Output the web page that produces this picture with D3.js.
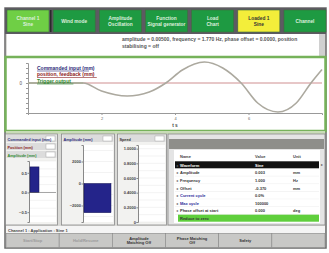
<!DOCTYPE html>
<html>
<head>
<meta charset="utf-8">
<title>Sine channel panel</title>
<script src="https://cdn.jsdelivr.net/npm/d3@7"></script>
<style>
  body { margin: 0; background: #fff; font-family: "Liberation Sans", Arial, sans-serif; }
  svg text { font-family: "Liberation Sans", Arial, sans-serif; }
</style>
</head>
<body>
<svg width="329" height="253"></svg>
<script>
// ---- data ----
const tabLabels = [["Channel 1", "Sine"], ["Wind mode"], ["Amplitude", "Oscillation"], ["Function", "Signal generator"], ["Load", "Chart"], ["Loaded 1", "Sine"], ["Channel"]];
const tabColors = ["#6fcf45", "#1e9a42", "#1e9a42", "#1e9a42", "#1e9a42", "#f3ee3a", "#1e9a42"];
const infoLines = ["amplitude = 0.00500, frequency = 1.770 Hz, phase offset = 0.0000, position", "stabilising = off"];

const legendLabels = ["Commanded input (mm)", "position, feedback (mm)", "Trigger output"];
const legendColors = ["#2b2b7a", "#8a2020", "#2f8a2f"];

const timeS = [0, 1.0, 1.5, 2.0, 2.7, 3.3, 3.75, 4.2, 4.8, 5.3, 5.8, 6.25, 6.8, 7.3, 7.7, 8.0];
const positionMm = [0, 0, 0, -0.8, -1.3, -0.9, 0, 1.3, 2.1, 1.5, 0, -2.0, -2.9, -2.0, 0, 1.35];
const xTicks = [2, 4, 6];

const barPanels = [
  { head: ["Commanded input (mm)", "Position (mm)", "Amplitude (mm)"], headColors: ["#2b2b7a", "#8a2020", "#2f8a2f"], value: 0.65, domain: [-0.75, 0.8], ticks: [0.5, 0, -0.5], fmt: d3.format(".1f") },
  { head: ["Amplitude (mm)"], headColors: ["#2b2b7a"], value: -2650, domain: [-3500, 3500], ticks: [2000, 0, -2000], fmt: d3.format("d") },
  { head: ["Speed"], headColors: ["#333"], value: 0, domain: [0, 1.05], ticks: [1, 0.8, 0.6, 0.4, 0.2, 0], fmt: d => d === 0 ? "0" : d3.format(".4f")(d) }
];

const tableNames = ["Waveform", "Amplitude", "Frequency", "Offset", "Current cycle", "Max cycle", "Phase offset at start", "Reduce to zero"];
const tableValues = ["Sine", "0.003", "1.000", "-0.370", "0.0%", "100000", "0.000", ""];
const tableUnits = ["", "mm", "Hz", "mm", "", "", "deg", ""];

const statusText = "Channel 1 : Application : Sine 1";
const buttonLabels = [["Start/Stop"], ["Hold/Resume"], ["Amplitude", "Matching Off"], ["Phase Matching", "Off"], ["Safety"], [""]];

// ---- drawing ----
const svg = d3.select("svg");

// outer frame
svg.append("rect").attr("x", 5).attr("y", 8).attr("width", 321).attr("height", 240).attr("fill", "#d9d9d6").attr("stroke", "#6a6a6a").attr("stroke-width", 1.5);

// tab strip
svg.append("rect").attr("x", 5).attr("y", 8).attr("width", 321).attr("height", 26).attr("fill", "#5d5a62");
const tabX = d3.scaleBand().domain(d3.range(tabLabels.length)).range([7, 326]).paddingInner(0.09);
const tabs = svg.append("g").selectAll("g").data(tabLabels).join("g")
  .attr("transform", (d, i) => `translate(${tabX(i)},10)`);
tabs.append("rect").attr("width", tabX.bandwidth()).attr("height", 22)
  .attr("fill", (d, i) => tabColors[i]).attr("stroke", "#3e6e3e").attr("stroke-width", 0.6);
tabs.each(function (d, i) {
  const g = d3.select(this);
  d.forEach((t, k) => g.append("text")
    .attr("x", tabX.bandwidth() / 2).attr("y", 11 + (k - (d.length - 1) / 2) * 5.5 + 1.8)
    .attr("text-anchor", "middle").attr("font-size", 4.8).attr("font-weight", "bold")
    .attr("fill", i === 5 ? "#333" : "#dff0df").text(t));
});
svg.append("rect").attr("x", tabX(0) + tabX.bandwidth() + 1).attr("y", 10).attr("width", 1.5).attr("height", 22).attr("fill", "#2a2a2a");

// info text box
svg.append("rect").attr("x", 7).attr("y", 34).attr("width", 312).attr("height", 22).attr("fill", "#fff");
svg.append("rect").attr("x", 319).attr("y", 34).attr("width", 6).attr("height", 22).attr("fill", "#d0d0d0");
infoLines.forEach((t, i) => svg.append("text").attr("x", 122).attr("y", 41 + i * 6.5)
  .attr("font-size", 5).attr("font-weight", "bold").attr("fill", "#555").text(t));

// chart panel
svg.append("rect").attr("x", 5.5).attr("y", 57).attr("width", 320).attr("height", 74).attr("fill", "#fff").attr("stroke", "#76b25a").attr("stroke-width", 2.5);
const x = d3.scaleLinear().domain([0, 8]).range([28, 322]);
const y = d3.scaleLinear().domain([-3, 2]).range([113, 63]);

const chart = svg.append("g");
chart.append("g").attr("transform", "translate(0,113)")
  .call(d3.axisBottom(x).tickValues(xTicks).tickSize(2).tickFormat(d3.format("d")))
  .call(g => g.select(".domain").attr("stroke", "#999"))
  .call(g => g.selectAll("line").attr("stroke", "#999"))
  .call(g => g.selectAll("text").attr("font-size", 4).attr("fill", "#666").attr("dy", "0.5em"));
chart.append("g").attr("transform", "translate(28,0)")
  .call(d3.axisLeft(y).ticks(10).tickSize(2).tickFormat(""))
  .call(g => g.select(".domain").attr("stroke", "#999"))
  .call(g => g.selectAll("line").attr("stroke", "#999"));
chart.append("text").attr("x", 22).attr("y", y(0) + 2).attr("text-anchor", "end").attr("font-size", 4.5).attr("fill", "#555").text("0");
chart.append("text").attr("x", x(4)).attr("y", 127).attr("text-anchor", "middle").attr("font-size", 4.8).attr("font-weight", "bold").attr("fill", "#444").text("t s");

chart.append("line").attr("x1", x(0)).attr("x2", x(8)).attr("y1", y(0)).attr("y2", y(0)).attr("stroke", "#cf8f90").attr("stroke-width", 1);
chart.append("line").attr("x1", x(0)).attr("x2", x(1.5)).attr("y1", y(0)).attr("y2", y(0)).attr("stroke", "#7fb36f").attr("stroke-width", 1);
chart.append("path").datum(d3.zip(timeS, positionMm))
  .attr("fill", "none").attr("stroke", "#aca99f").attr("stroke-width", 1.6)
  .attr("d", d3.line().x(d => x(d[0])).y(d => y(d[1])).curve(d3.curveMonotoneX));

legendLabels.forEach((t, i) => {
  chart.append("text").attr("x", 37).attr("y", 69.5 + i * 6.5).attr("font-size", 5).attr("font-weight", "bold")
    .attr("fill", legendColors[i]).text(t);
  chart.append("line").attr("x1", 37).attr("x2", 37 + t.length * 2.6).attr("y1", 71 + i * 6.5).attr("y2", 71 + i * 6.5)
    .attr("stroke", legendColors[i]).attr("stroke-width", 0.6);
});

// small strip under chart
svg.append("rect").attr("x", 6).attr("y", 131).attr("width", 319).attr("height", 3).attr("fill", "#c9dcb8");

// bar panels
const panelX = [[5, 58, 29], [61, 115, 83], [117, 167, 138]];
barPanels.forEach((p, i) => {
  const [x0, x1, ax] = panelX[i];
  const g = svg.append("g");
  g.append("rect").attr("x", x0 + 0.5).attr("y", 134).attr("width", x1 - x0 - 1).attr("height", 91).attr("fill", "#f2f2f0").attr("stroke", "#8a8a8a").attr("stroke-width", 0.8);
  p.head.forEach((h, k) => {
    g.append("rect").attr("x", x0 + 1.5).attr("y", 135 + k * 8).attr("width", x1 - x0 - 3).attr("height", 7).attr("fill", "#dcdcdc");
    g.append("rect").attr("x", x1 - 12).attr("y", 136 + k * 8).attr("width", 9).attr("height", 5).attr("fill", "#fff").attr("stroke", "#999").attr("stroke-width", 0.4);
    g.append("text").attr("x", x0 + 2.5).attr("y", 140.5 + k * 8).attr("font-size", 3.8).attr("font-weight", "bold").attr("fill", p.headColors[k]).text(h);
  });
  const top = 135 + p.head.length * 8 + 2;
  const ys = d3.scaleLinear().domain(p.domain).range([222, top]);
  g.append("rect").attr("x", ax).attr("y", top).attr("width", x1 - ax - 2).attr("height", 222 - top).attr("fill", "#fff");
  g.append("g").selectAll("line").data(ys.ticks(8)).join("line")
    .attr("x1", ax).attr("x2", x1 - 2).attr("y1", d => ys(d)).attr("y2", d => ys(d)).attr("stroke", "#e6e6e6").attr("stroke-width", 0.5);
  g.append("g").attr("transform", `translate(${ax},0)`)
    .call(d3.axisLeft(ys).tickValues(p.ticks).tickSize(1.5).tickFormat(p.fmt))
    .call(a => a.select(".domain").attr("stroke", "#888"))
    .call(a => a.selectAll("line").attr("stroke", "#888"))
    .call(a => a.selectAll("text").attr("font-size", 4).attr("font-weight", "bold").attr("fill", "#444").attr("x", -2));
  if (p.value !== 0) {
    g.append("rect").attr("x", ax + 1).attr("width", i === 0 ? 9 : x1 - ax - 5)
      .attr("y", ys(Math.max(0, p.value))).attr("height", Math.abs(ys(p.value) - ys(0)))
      .attr("fill", "#24248a").attr("stroke", "#101050").attr("stroke-width", 0.5);
  }
  if (i === 0) g.append("line").attr("x1", ax).attr("x2", x1 - 2).attr("y1", ys(0)).attr("y2", ys(0)).attr("stroke", "#555").attr("stroke-width", 0.5);
});

// table panel
const tp = svg.append("g");
tp.append("rect").attr("x", 168).attr("y", 134).attr("width", 157).attr("height", 91).attr("fill", "#e4e4e4").attr("stroke", "#8a8a8a").attr("stroke-width", 0.8);
tp.append("rect").attr("x", 169).attr("y", 139).attr("width", 155).attr("height", 10).attr("fill", "#8e8e8a");
tp.append("rect").attr("x", 174).attr("y", 150).attr("width", 146).attr("height", 73).attr("fill", "#fff");
const rowY = d3.scaleBand().domain(d3.range(tableNames.length)).range([161, 222]);
const colX = [180, 255, 293];
["Name", "Value", "Unit"].forEach((t, k) => tp.append("text").attr("x", colX[k]).attr("y", 157.5).attr("font-size", 4).attr("font-weight", "bold").attr("fill", "#444").text(t));
tableNames.forEach((n, i) => {
  const ry = rowY(i), h = rowY.bandwidth();
  const last = i === tableNames.length - 1;
  const fill = i === 0 ? "#111" : last ? "#5fcf3c" : "#fff";
  tp.append("rect").attr("x", last ? 178 : 175).attr("y", ry + 0.3).attr("width", last ? 141 : 144).attr("height", h - 0.6).attr("fill", fill);
  if (!last && i > 0) tp.append("line").attr("x1", 175).attr("x2", 319).attr("y1", ry + h).attr("y2", ry + h).attr("stroke", "#ddd").attr("stroke-width", 0.4);
  if (!last) tp.append("text").attr("x", 176).attr("y", ry + h - 2).attr("font-size", 3.6).attr("fill", "#666").text("◂");
  const txtCol = i === 0 ? "#fff" : (i === 4 || i === 5) ? "#2a2a9a" : "#333";
  tp.append("text").attr("x", colX[0]).attr("y", ry + h - 2).attr("font-size", 4).attr("font-weight", "bold").attr("fill", txtCol).text(n);
  tp.append("text").attr("x", colX[1]).attr("y", ry + h - 2).attr("font-size", 4).attr("font-weight", "bold").attr("fill", i === 0 ? "#fff" : "#333").text(tableValues[i]);
  tp.append("text").attr("x", colX[2]).attr("y", ry + h - 2).attr("font-size", 4).attr("font-weight", "bold").attr("fill", "#333").text(tableUnits[i]);
});
tp.append("text").attr("x", 321).attr("y", rowY(0) + 5).attr("font-size", 4).attr("fill", "#555").text("▸");

// status line
svg.append("rect").attr("x", 6).attr("y", 226).attr("width", 319).attr("height", 7).attr("fill", "#f4f4f4");
svg.append("text").attr("x", 8).attr("y", 231.5).attr("font-size", 4).attr("font-weight", "bold").attr("fill", "#444").text(statusText);

// buttons
const btnX = d3.scaleBand().domain(d3.range(buttonLabels.length)).range([6, 325]);
const btns = svg.append("g").selectAll("g").data(buttonLabels).join("g").attr("transform", (d, i) => `translate(${btnX(i)},233.5)`);
btns.append("rect").attr("width", btnX.bandwidth()).attr("height", 14).attr("fill", "#c8c8c6").attr("stroke", "#8a8a8a").attr("stroke-width", 0.6);
btns.each(function (d, i) {
  const g = d3.select(this);
  d.forEach((t, k) => g.append("text").attr("x", btnX.bandwidth() / 2).attr("y", 8.5 + (k - (d.length - 1) / 2) * 4.8)
    .attr("text-anchor", "middle").attr("font-size", 4).attr("font-weight", "bold")
    .attr("fill", i < 2 ? "#9a9a9a" : "#333").text(t));
});
</script>
</body>
</html>
